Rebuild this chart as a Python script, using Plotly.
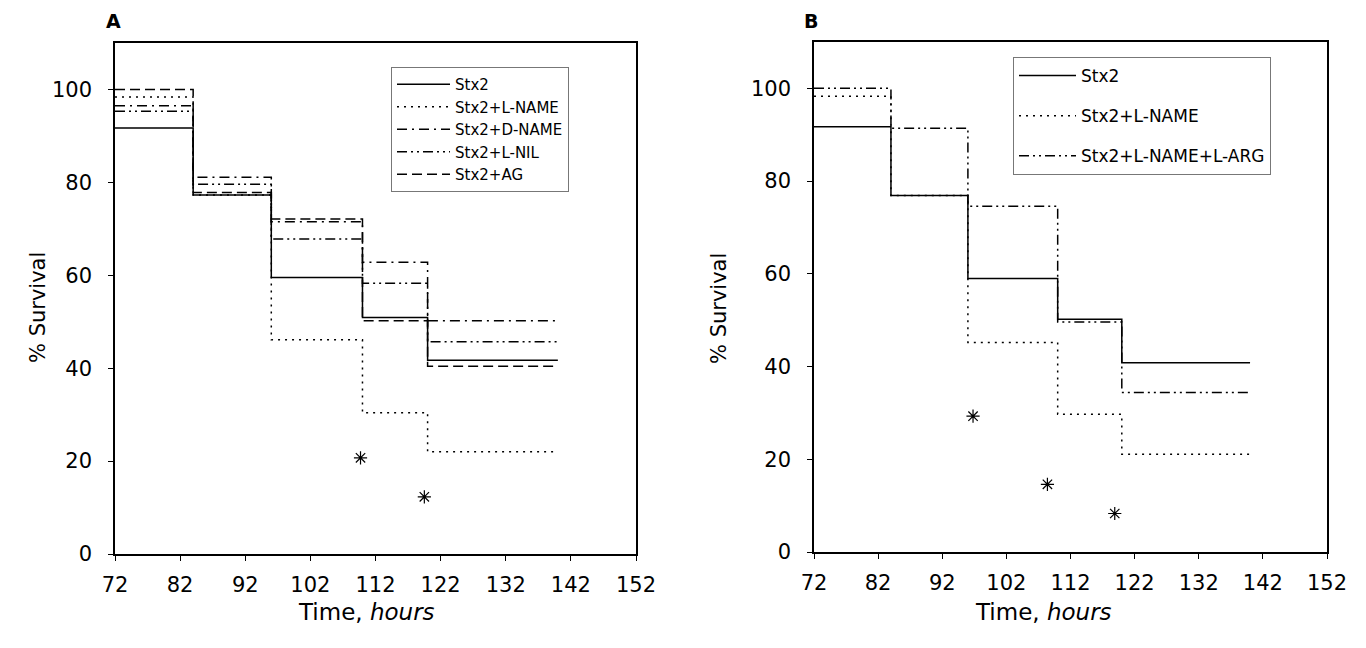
import plotly.graph_objects as go

# ---- data ----
hours = [72, 84, 96, 110, 120, 140]

a_stx2 = [91.7, 77.3, 59.5, 50.9, 41.7]
a_lname = [98.4, 77.3, 46.1, 30.4, 22.0]
a_dname = [96.5, 81.1, 71.5, 62.8, 50.2]
a_lnil = [95.3, 79.6, 67.8, 58.3, 45.7]
a_ag = [100.0, 77.8, 72.1, 50.2, 40.4]

b_stx2 = [91.7, 76.9, 59.0, 50.2, 40.8]
b_lname = [98.3, 76.9, 45.2, 29.7, 21.1]
b_larg = [100.0, 91.4, 74.6, 49.6, 34.4]

a_star_x = [109.7, 119.5]
a_star_y = [20.7, 12.3]
b_star_x = [96.8, 108.4, 118.9]
b_star_y = [29.3, 14.6, 8.3]

x_ticks = [72, 82, 92, 102, 112, 122, 132, 142, 152]
y_ticks = [0, 20, 40, 60, 80, 100]

names_a = ["Stx2", "Stx2+L-NAME", "Stx2+D-NAME", "Stx2+L-NIL", "Stx2+AG"]
names_b = ["Stx2", "Stx2+L-NAME", "Stx2+L-NAME+L-ARG"]

FONT = "DejaVu Sans"
W, H = 1366, 648

DASH = {
    "solid": "solid",
    "dot": "2px,5px",
    "dashdot": "10px,5px,2px,5px",
    "dashdotdot": "10px,4px,2px,4px,2px,4px",
    "dash": "10px,5px",
}

fig = go.Figure()


def step(vals):
    return vals + [vals[-1]]


series_a = [(names_a[0], a_stx2, "solid"), (names_a[1], a_lname, "dot"),
            (names_a[2], a_dname, "dashdot"), (names_a[3], a_lnil, "dashdotdot"),
            (names_a[4], a_ag, "dash")]
for i, (nm, vals, d) in enumerate(series_a):
    fig.add_trace(go.Scatter(x=hours, y=step(vals), mode="lines", line_shape="hv",
                             name=nm, line=dict(color="black", width=1.5, dash=DASH[d]),
                             xaxis="x", yaxis="y", legend="legend", legendgroup="a%d" % i))

series_b = [(names_b[0], b_stx2, "solid"), (names_b[1], b_lname, "dot"),
            (names_b[2], b_larg, "dashdotdot")]
for i, (nm, vals, d) in enumerate(series_b):
    fig.add_trace(go.Scatter(x=hours, y=step(vals), mode="lines", line_shape="hv",
                             name=nm, line=dict(color="black", width=1.5, dash=DASH[d]),
                             xaxis="x2", yaxis="y2", legend="legend2", legendgroup="b%d" % i))

star = dict(symbol="asterisk-open", size=11, color="black", line=dict(color="black", width=1.2))
fig.add_trace(go.Scatter(x=a_star_x, y=a_star_y, mode="markers", marker=star,
                         showlegend=False, xaxis="x", yaxis="y"))
fig.add_trace(go.Scatter(x=b_star_x, y=b_star_y, mode="markers", marker=star,
                         showlegend=False, xaxis="x2", yaxis="y2"))

common = dict(showline=True, linecolor="black", linewidth=1.5, mirror=True,
              ticks="outside", ticklen=5, tickwidth=1, tickcolor="black",
              showgrid=False, zeroline=False, automargin=False,
              tickfont=dict(family=FONT, size=21, color="black"))

ydomA = [(H - 554) / H, (H - 43) / H]
ydomB = [(H - 552) / H, (H - 42) / H]

fig.update_layout(
    width=W, height=H, margin=dict(l=0, r=0, t=0, b=0, autoexpand=False),
    paper_bgcolor="white", plot_bgcolor="white",
    font=dict(family=FONT, color="black"),
    xaxis=dict(domain=[115 / W, 636 / W], range=[72, 152], tickvals=x_ticks,
               anchor="y", ticklabelstandoff=6, **common),
    yaxis=dict(domain=ydomA, range=[0, 110], tickvals=y_ticks, anchor="x",
               ticklabelstandoff=12, **common),
    xaxis2=dict(domain=[814 / W, 1327 / W], range=[72, 152], tickvals=x_ticks,
                anchor="y2", ticklabelstandoff=6, **common),
    yaxis2=dict(domain=ydomB, range=[0, 110], tickvals=y_ticks, anchor="x2",
                ticklabelstandoff=12, **common),
    legend=dict(x=391 / W, y=(H - 67) / H, xanchor="left", yanchor="top",
                bordercolor="#777", borderwidth=1, bgcolor="white",
                font=dict(family=FONT, size=15, color="black"),
                itemwidth=53, tracegroupgap=0, entrywidth=212, entrywidthmode="pixels"),
    legend2=dict(x=1013 / W, y=(H - 57) / H, xanchor="left", yanchor="top",
                 bordercolor="#777", borderwidth=1, bgcolor="white",
                 font=dict(family=FONT, size=17, color="black"),
                 itemwidth=57, tracegroupgap=15, entrywidth=300, entrywidthmode="pixels"),
    showlegend=True,
)

ann = [
    dict(text="<b>A</b>", x=113 / W, y=(H - 21) / H, size=19),
    dict(text="<b>B</b>", x=811 / W, y=(H - 21) / H, size=19),
    dict(text="Time, <i>hours</i>", x=366 / W, y=(H - 612) / H, size=23),
    dict(text="Time, <i>hours</i>", x=1043 / W, y=(H - 612) / H, size=23),
    dict(text="% Survival", x=38 / W, y=(H - 308) / H, size=21, angle=-90),
    dict(text="% Survival", x=719 / W, y=(H - 308) / H, size=21, angle=-90),
]
for a in ann:
    fig.add_annotation(text=a["text"], x=a["x"], y=a["y"], xref="paper", yref="paper",
                       xanchor="center", yanchor="middle", showarrow=False,
                       textangle=a.get("angle", 0),
                       font=dict(family=FONT, size=a["size"], color="black"))

fig.write_html("out.html")
